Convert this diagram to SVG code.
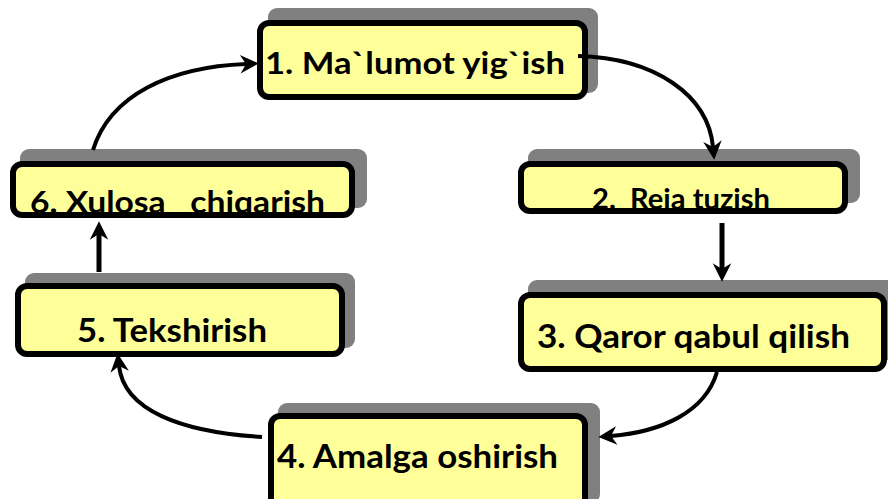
<svg xmlns="http://www.w3.org/2000/svg" width="888" height="499" viewBox="0 0 888 499">
<style>
.sh{fill:#808080}
.bx{fill:#ffff99;stroke:#000;stroke-width:6}
.tx{font-family:Lato,"Open Sans",sans-serif;font-weight:bold;fill:#000}
.cn{fill:none;stroke:#000;stroke-width:4}
.cv{fill:none;stroke:#000;stroke-width:5}
</style>
<defs>
<marker id="ah" markerUnits="userSpaceOnUse" markerWidth="22" markerHeight="22" viewBox="-1 -9 19 18" refX="5" refY="0" orient="auto">
<path d="M0,-8 L16,0 L0,8 L5,0 Z" fill="#000"/>
</marker>
<clipPath id="c2"><rect x="524" y="167" width="318" height="42"/></clipPath>
<clipPath id="c6"><rect x="16" y="167" width="333" height="46"/></clipPath>
</defs>
<rect width="888" height="499" fill="#fff"/>
<g id="n1">
<rect class="sh" x="268" y="8" width="330" height="85" rx="9"/>
<rect class="bx" x="260" y="23" width="325" height="74" rx="9"/>
<text class="tx" x="265" y="74" font-size="31" textLength="300" lengthAdjust="spacingAndGlyphs">1. Ma`lumot yig`ish</text>
</g>
<g id="n2">
<rect class="sh" x="528" y="149" width="332" height="54" rx="9"/>
<rect class="bx" x="521" y="164" width="324" height="47" rx="9"/>
<text class="tx" clip-path="url(#c2)" xml:space="preserve" x="592" y="209" font-size="28" textLength="178" lengthAdjust="spacingAndGlyphs">2.  Reja tuzish</text>
</g>
<g id="n3">
<rect class="sh" x="528" y="280" width="370" height="80" rx="9"/>
<rect class="bx" x="521" y="295" width="363" height="74" rx="9"/>
<text class="tx" x="537" y="348" font-size="32" textLength="313" lengthAdjust="spacingAndGlyphs">3. Qaror qabul qilish</text>
</g>
<g id="n4">
<rect class="sh" x="278" y="403" width="322" height="100" rx="9"/>
<rect class="bx" x="271" y="416" width="314" height="100" rx="9"/>
<text class="tx" x="277" y="468" font-size="32" textLength="281" lengthAdjust="spacingAndGlyphs">4. Amalga oshirish</text>
</g>
<g id="n5">
<rect class="sh" x="25" y="273" width="330" height="75" rx="9"/>
<rect class="bx" x="18" y="286" width="324" height="68" rx="9"/>
<text class="tx" x="77" y="342" font-size="32" textLength="190" lengthAdjust="spacingAndGlyphs">5. Tekshirish</text>
</g>
<g id="n6">
<rect class="sh" x="20" y="149" width="347" height="59" rx="9"/>
<rect class="bx" x="13" y="164" width="339" height="51" rx="9"/>
<text class="tx" clip-path="url(#c6)" xml:space="preserve" x="30" y="213" font-size="31" textLength="295" lengthAdjust="spacingAndGlyphs">6. Xulosa   chiqarish</text>
</g>
<g id="connectors">
<path class="cn" marker-end="url(#ah)" d="M578,56 C655,58 708,95 713,147"/>
<path class="cv" marker-end="url(#ah)" d="M722,223 L722,269"/>
<path class="cn" marker-end="url(#ah)" d="M717,372 C705,413 660,432 611,436"/>
<path class="cn" marker-end="url(#ah)" d="M262,437 C180,432 124,410 119,366"/>
<path class="cv" marker-end="url(#ah)" d="M99,272 L99,234"/>
<path class="cn" marker-end="url(#ah)" d="M93,150 C110,95 170,67 246,64"/>
</g>
</svg>
